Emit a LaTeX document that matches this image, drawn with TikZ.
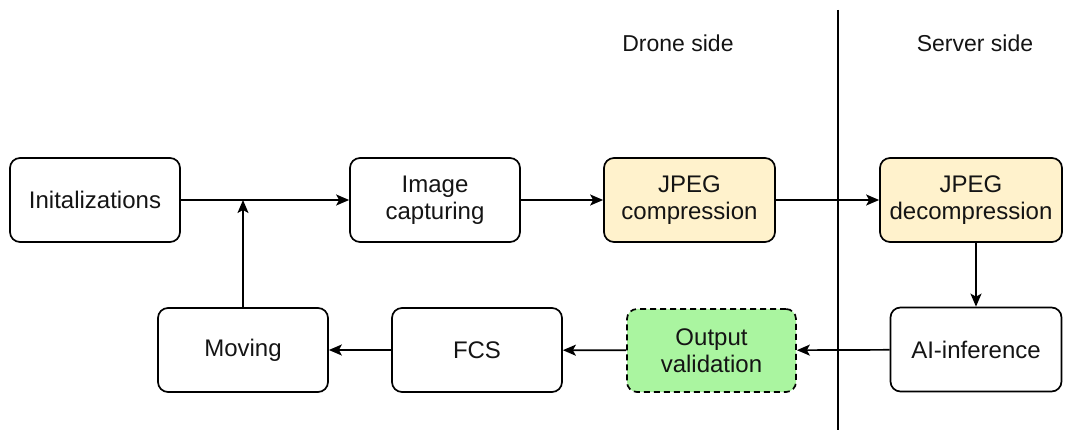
\documentclass[tikz,border=0pt]{standalone}
\usepackage{fontspec}
\setmainfont{Liberation Sans}
\usetikzlibrary{arrows.meta}
\definecolor{jpegfill}{RGB}{255,242,204}
\definecolor{valfill}{RGB}{170,245,160}
\definecolor{ink}{RGB}{20,20,20}
\begin{document}
\begin{tikzpicture}[x=1pt,y=1pt,
  box/.style={draw=black, line width=1.7pt, rounded corners=10pt, minimum height=84pt, align=center, font=\fontsize{24}{27.5}\selectfont, text=ink, inner sep=2pt},
  conn/.style={line width=1.7pt, -{Stealth[length=13pt,width=11pt,inset=3pt]}},
  label/.style={font=\fontsize{23}{27}\selectfont, text=ink}]
\useasboundingbox (0,0) rectangle (1071,-430);
\node[box, minimum width=170pt] (init) at (95,-200) {Initalizations};
\node[box, minimum width=170pt] (img) at (435,-200) {Image\\capturing};
\node[box, minimum width=171pt, fill=jpegfill] (comp) at (689.5,-200) {JPEG\\compression};
\node[box, minimum width=182pt, fill=jpegfill] (decomp) at (971,-200) {JPEG\\decompression};
\node[box, minimum width=171pt] (ai) at (976,-349.5) {AI-inference};
\node[box, minimum width=169pt, minimum height=83pt, fill=valfill, dash pattern=on 6pt off 4pt] (val) at (711.5,-350.5) {Output\\validation};
\node[box, minimum width=170pt] (fcs) at (477,-350) {FCS};
\node[box, minimum width=170pt] (mov) at (243,-350) {Moving};
\coordinate (top) at (838,-10);
\coordinate (bot) at (838,-430);
\draw[line width=1.7pt] (top) -- (bot);
\node[label] (drone) at (678,-43) {Drone side};
\node[label] (server) at (975,-43) {Server side};
\draw[conn] (init) -- (img);
\coordinate (join) at (243,-200);
\draw[conn] (mov) -- (join);
\draw[conn] (img) -- (comp);
\draw[conn] (comp) -- (decomp);
\draw[conn] (decomp.south -| ai.north) -- (ai);
\draw[conn] (ai) -- (val);
\draw[conn] (val) -- (fcs);
\draw[conn] (fcs) -- (mov);
\end{tikzpicture}
\end{document}
